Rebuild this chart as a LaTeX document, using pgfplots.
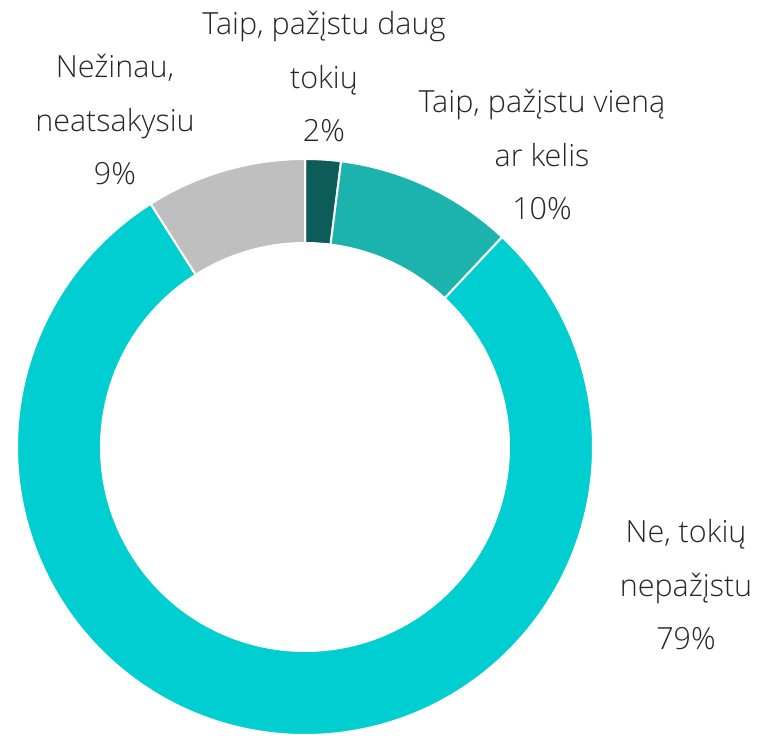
\documentclass[border=0pt]{standalone}
\usepackage{pgfplots}
\usepackage{pgfplotstable}
\pgfplotsset{compat=1.18}
\usepackage{fontspec}
\setmainfont{Open Sans Light}
\definecolor{s0}{HTML}{0E5C59}
\definecolor{s1}{HTML}{1CB2AD}
\definecolor{s2}{HTML}{00CED1}
\definecolor{s3}{HTML}{BFBFBF}
\definecolor{txt}{HTML}{262626}
\pgfplotstableread{
idx value
0 2
1 10
2 79
3 9
}\donut
\tikzset{lbl/.style={text=txt, align=center, anchor=base, inner sep=0pt,
    font=\fontsize{30.5}{53.5}\selectfont}}
\begin{document}
\begin{tikzpicture}
\def\cum{0}%
\pgfplotsforeachungrouped \i in {0,...,3}{%
  \pgfplotstablegetelem{\i}{value}\of\donut
  \let\myval\pgfplotsretval
  \pgfmathsetmacro{\mys}{90-3.6*\cum}%
  \pgfmathsetmacro{\cum}{\cum+\myval}%
  \pgfmathsetmacro{\mye}{90-3.6*\cum}%
  \expandafter\xdef\csname sA\i\endcsname{\mys}%
  \expandafter\xdef\csname eA\i\endcsname{\mye}%
}%
\begin{axis}[
  name=ax,
  scale only axis, width=758pt, height=736pt,
  xmin=0, xmax=758, ymin=0, ymax=736,
  hide axis, clip=false,
]
\pgfplotsinvokeforeach{0,1,2,3}{%
  \fill[fill=s#1, draw=white, line width=2pt]
    (axis cs:{305+288*cos(\csname sA#1\endcsname)},{289+288*sin(\csname sA#1\endcsname)})
    arc[start angle=\csname sA#1\endcsname, end angle=\csname eA#1\endcsname, radius=288pt]
    -- (axis cs:{305+204*cos(\csname eA#1\endcsname)},{289+204*sin(\csname eA#1\endcsname)})
    arc[start angle=\csname eA#1\endcsname, end angle=\csname sA#1\endcsname, radius=204pt] -- cycle;
}
\node[lbl] at (axis cs:324,594) {Taip, pažįstu daug\\tokių\\2\%};
\node[lbl] at (axis cs:542,516) {Taip, pažįstu vieną\\ar kelis\\10\%};
\node[lbl] at (axis cs:115,551) {Nežinau,\\neatsakysiu\\9\%};
\node[lbl] at (axis cs:686,86) {Ne, tokių\\nepažįstu\\79\%};
\end{axis}
\pgfresetboundingbox
\useasboundingbox (ax.south west) rectangle (ax.north east);
\end{tikzpicture}
\end{document}
